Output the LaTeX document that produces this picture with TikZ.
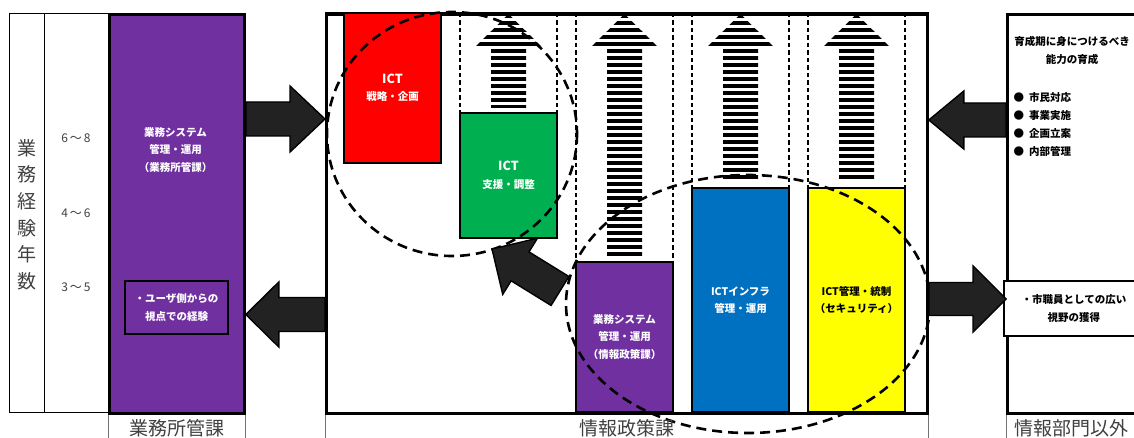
\documentclass[tikz,border=0pt]{standalone}
\usepackage{fontspec}
\setmainfont{Noto Sans CJK JP}
\usetikzlibrary{positioning, calc}

\definecolor{kapurple}{HTML}{7030A0}
\definecolor{kared}{HTML}{FF0000}
\definecolor{kagreen}{HTML}{00B050}
\definecolor{kablue}{HTML}{0070C0}
\definecolor{kayellow}{HTML}{FFFF00}
\definecolor{arrowfill}{HTML}{222222}

\newcommand{\ictfont}{\fontsize{12.5}{17.5}\selectfont}

% 太い矢印: 始点, 終点, 軸の半幅, 頭の半幅, 頭の長さ
\newcommand{\fatarrow}[5]{%
  \coordinate (fa-base) at ($(#2)!#5!(#1)$);
  \draw[fatline] ($(#1)!#3!90:(#2)$) -- ($(fa-base)!#3!90:(#2)$)
    -- ($(fa-base)!#4!90:(#2)$) -- (#2)
    -- ($(fa-base)!#4!-90:(#2)$) -- ($(fa-base)!#3!-90:(#2)$)
    -- ($(#1)!#3!-90:(#2)$) -- cycle;
}

% 縞模様の上向き矢印: 中心x, 軸の下端y
\newcommand{\stripearrow}[2]{%
  \begin{scope}
    \clip (#1,14) -- ({#1+34.5},48) -- ({#1+17.5},48) -- ({#1+17.5},#2)
      -- ({#1-17.5},#2) -- ({#1-17.5},48) -- ({#1-34.5},48) -- cycle;
    \foreach \yy in {14,21,...,#2}
      \fill ({#1-36},\yy) rectangle ({#1+36},{\yy+4});
  \end{scope}
}

\begin{document}
\begin{tikzpicture}[
    x=1pt, y=-1pt,
    box/.style={rectangle, draw=black, line width=2pt, inner sep=0pt},
    waku/.style={rectangle, draw=black, line width=2.8pt, inner sep=0pt},
    boxtext/.style={align=center, text=white,
        font=\bfseries\fontsize{10.5}{17.5}\selectfont},
    sublabel/.style={text=black!75, font=\fontsize{19}{20}\selectfont},
    yeartext/.style={text=black!75, font=\fontsize{12}{14}\selectfont},
    thinline/.style={draw=black!55, line width=0.8pt},
    colline/.style={draw=black, line width=1.7pt, dash pattern=on 4.5pt off 3pt},
    circline/.style={draw=black, line width=2.6pt, dash pattern=on 10pt off 6pt},
    fatline/.style={draw=black, fill=arrowfill, line width=1.4pt, line join=miter}
]
\useasboundingbox (0,0) rectangle (1134,438);
\clip (0,0) rectangle (1134,438);

% 業務経験年数の表
\node[draw=black, line width=0.8pt, inner sep=0pt, minimum width=99,
    minimum height=399, anchor=north west] (nensu) at (9,13) {};
\draw[line width=0.8pt] ($(nensu.north west)+(35,0)$) -- ($(nensu.south west)+(35,0)$);
\node[sublabel, align=center, font=\fontsize{19}{26.6}\selectfont] (nensulbl)
    at (26.5,214.5) {業\\務\\経\\験\\年\\数};
\node[yeartext] (y68) at (76,138) {6\,～\,8};
\node[yeartext] (y46) at (76,213) {4\,～\,6};
\node[yeartext] (y35) at (76,287) {3\,～\,5};

% 業務所管課
\node[waku, fill=kapurple, minimum width=135, minimum height=399,
    anchor=north west] (gyomu) at (108,13) {};
\node[boxtext] (gyomulbl) at (175.5,150) {業務システム\\管理・運用\\（業務所管課）};
\node[box, boxtext, fill=kapurple, minimum width=103, minimum height=53]
    (user) at (176.5,307.5) {・ユーザ側からの\\視点での経験};

% 情報政策課
\node[waku, fill=white, minimum width=601, minimum height=399,
    anchor=north west] (seisaku) at (325,13) {};
\foreach \xa/\xb/\yb in {460/557/113, 576/673/262, 692/789/188, 808/905/188}
    \draw[colline] (\xa,13) -- (\xa,\yb) (\xb,13) -- (\xb,\yb);

\stripearrow{508.5}{108}
\stripearrow{624.5}{258}
\stripearrow{740.5}{182}
\stripearrow{856.5}{182}

\node[box, boxtext, fill=kared, minimum width=97, minimum height=150]
    (senryaku) at (392.5,88) {{\ictfont ICT}\\戦略・企画};
\node[box, boxtext, fill=kagreen, minimum width=97, minimum height=125]
    (shien) at (508.5,175.5) {{\ictfont ICT}\\支援・調整};
\node[box, boxtext, fill=kapurple, minimum width=97, minimum height=150]
    (system) at (624.5,337) {業務システム\\管理・運用\\（情報政策課）};
\node[box, boxtext, fill=kablue, minimum width=97, minimum height=224]
    (infra) at (740.5,300) {ICTインフラ\\管理・運用};
\node[box, boxtext, text=black, fill=kayellow, minimum width=97, minimum height=224]
    (tousei) at (856.5,300) {ICT管理・統制\\（セキュリティ）};
\draw[line width=2.8pt] (seisaku.north west) -- (seisaku.north east);

% 点線の円
\draw[circline] (452,134) ellipse [x radius=125, y radius=122];
\draw[circline] (748,304) ellipse [x radius=182, y radius=129];

% 情報部門以外
\node[waku, fill=white, minimum width=200, minimum height=399,
    anchor=north west] (igai) at (1006,13) {};
\node[align=center, font=\bfseries\fontsize{10.5}{18}\selectfont] (ikusei)
    at (1072,51) {育成期に身につけるべき\\能力の育成};
\node[align=left, anchor=west, font=\bfseries\fontsize{10.5}{18}\selectfont]
    (nouryoku) at (1010,125) {●\hspace{5pt}市民対応\\●\hspace{5pt}事業実施\\
    ●\hspace{5pt}企画立案\\●\hspace{5pt}内部管理};
\node[box, line width=1.8pt, fill=white, minimum width=140, minimum height=55,
    anchor=north west, align=center, font=\bfseries\fontsize{10.5}{18}\selectfont]
    (shiya) at (1003,280) {・市職員としての広い\\視野の獲得};

% 下の課名
\draw[thinline] (gyomu.south west) -- ++(0,30) (gyomu.south east) -- ++(0,30);
\draw[thinline] (seisaku.south west) -- ++(0,30) (seisaku.south east) -- ++(0,30);
\draw[thinline] (igai.south west) -- ++(0,30);
\node[sublabel] (lgyomu) at (gyomu.south |- 0,428) {業務所管課};
\node[sublabel] (lseisaku) at (seisaku.south |- 0,428) {情報政策課};
\node[sublabel] (ligai) at (1071,428) {情報部門以外};

% 太い矢印
\coordinate (a1s) at (gyomu.east |- 0,119);
\coordinate (a1e) at (seisaku.west |- 0,119);
\fatarrow{a1s}{a1e}{17pt}{33pt}{35pt}
\coordinate (a2s) at (seisaku.west |- 0,314.5);
\coordinate (a2e) at (gyomu.east |- 0,314.5);
\fatarrow{a2s}{a2e}{17pt}{32.5pt}{33pt}
\coordinate (a3s) at (igai.west |- 0,120);
\coordinate (a3e) at (seisaku.east |- 0,120);
\fatarrow{a3s}{a3e}{17pt}{29pt}{35pt}
\coordinate (a4s) at (seisaku.east |- 0,299);
\coordinate (a4e) at (igai.west |- 0,299);
\fatarrow{a4s}{a4e}{16.5pt}{33pt}{33pt}
\coordinate (a5s) at (560,291);
\coordinate (a5e) at (492,249);
\fatarrow{a5s}{a5e}{17pt}{33pt}{33pt}
\end{tikzpicture}
\end{document}
